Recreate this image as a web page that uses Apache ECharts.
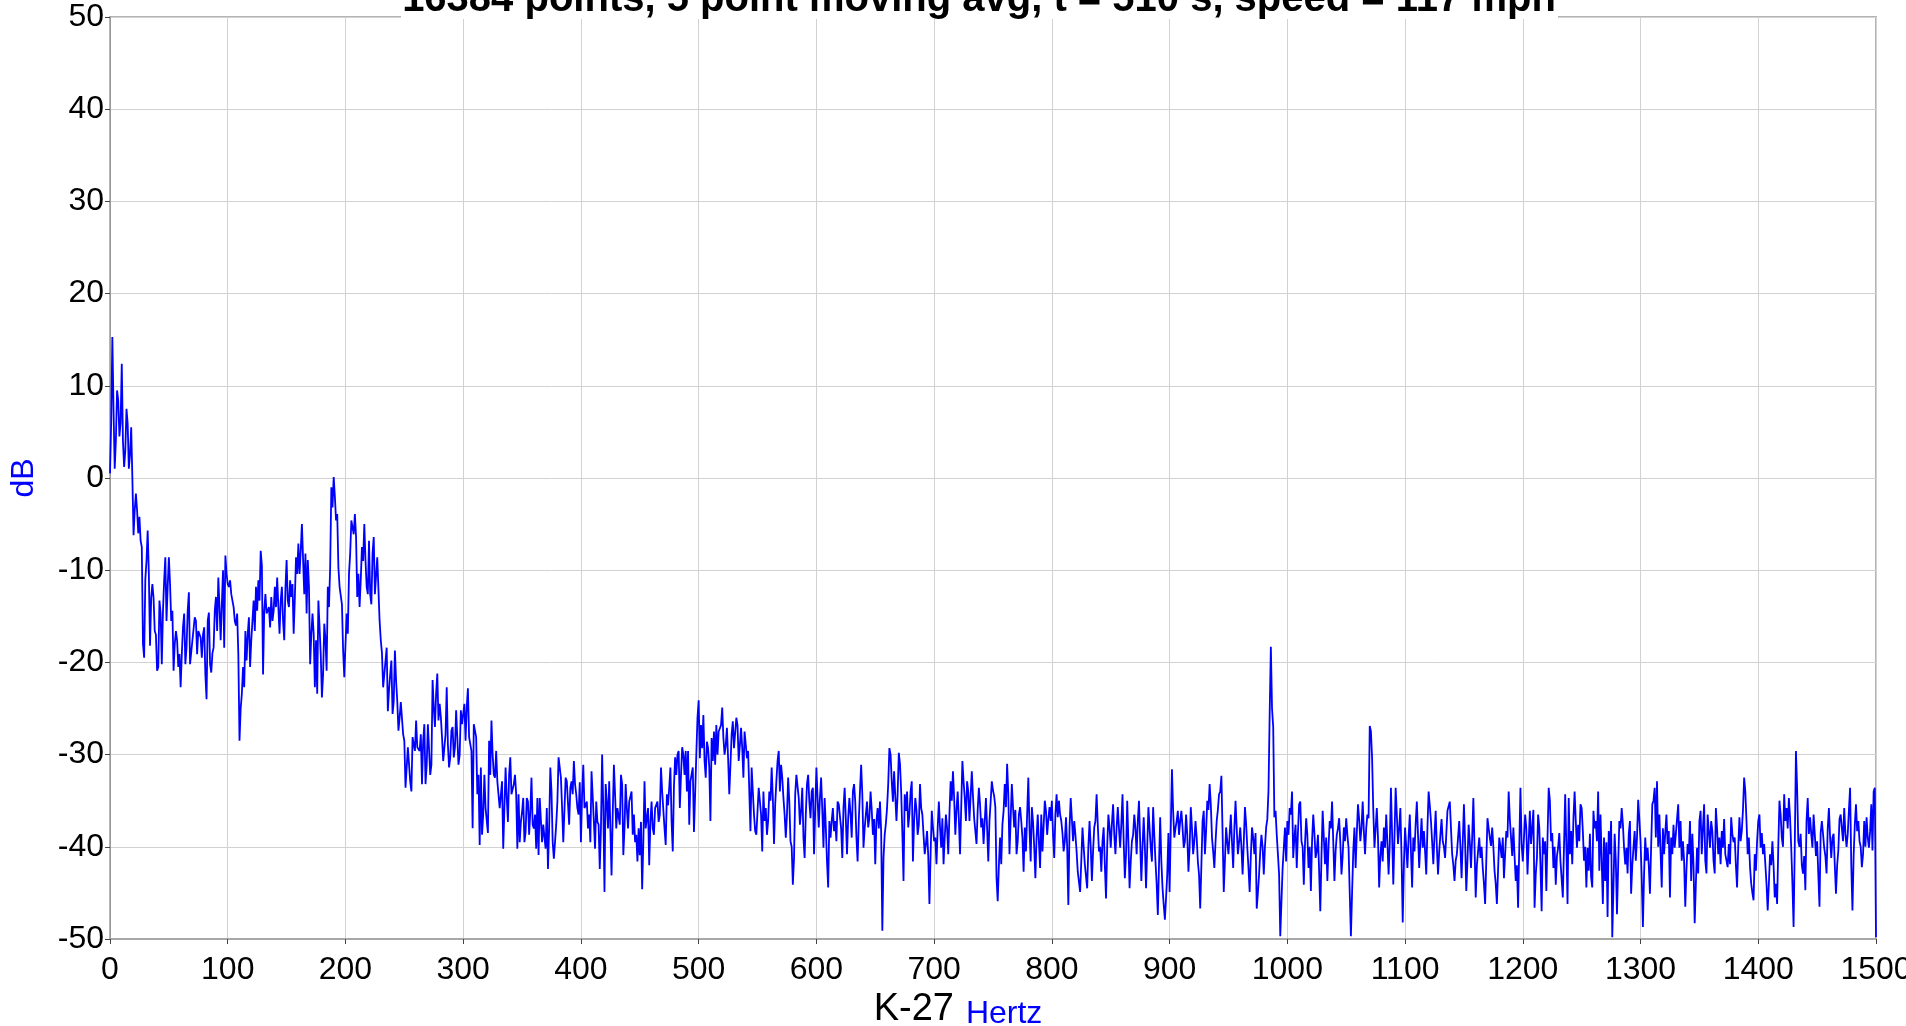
<!DOCTYPE html>
<html><head><meta charset="utf-8">
<script src="https://cdn.jsdelivr.net/npm/echarts@6/dist/echarts.min.js"></script>
<style>html,body{margin:0;padding:0;background:#fff}#c{width:1906px;height:1026px}</style>
</head><body><div id="c"></div>
<script>
// ---- text ----
const TITLE = '16384 points, 5 point moving avg, t = 510 s, speed = 117 mph';
const X_NAME_MAIN = 'K-27';
const X_NAME_UNIT = 'Hertz';
const Y_NAME = 'dB';
// ---- axes ----
const X_MIN = 0, X_MAX = 1500, X_STEP = 100;
const Y_MIN = -50, Y_MAX = 50, Y_STEP = 10;
// ---- data: dB spectrum; each array holds samples 2 Hz apart from its start ----
const STEP_HZ = 2;
// even-Hz samples
const seg0Start = 0;
const seg0 = [0.5,15.3,1.0,9.5,4.5,12.4,1.2,7.5,1.0,5.5,
-6.2,-1.7,-6.0,-6.8,-18.0,-11.0,-5.7,-18.2,-11.5,-16.6,
-20.9,-13.3,-20.2,-11.1,-15.5,-8.6,-15.5,-20.9,-16.6,-20.5,
-22.7,-16.2,-20.2,-14.4,-20.2,-17.6,-15.1,-19.1,-16.6,-19.5,
-16.2,-24.0,-14.6,-21.1,-18.4,-12.9,-10.8,-17.6,-10.0,-8.4,
-11.5,-11.1,-12.6,-15.5,-14.7,-28.5,-23.4,-22.7,-19.8,-15.1,
-17.6,-13.3,-11.8,-11.1,-7.9,-21.3,-12.6,-14.7,-16.2,-15.5,
-11.8,-10.8,-16.9,-11.8,-17.6,-8.9,-14.0,-12.9,-16.9,-8.6,
-7.1,-7.9,-5.0,-8.2,-8.9,-20.2,-14.7,-22.7,-23.4,-13.3,
-23.8,-15.8,-20.9,-14.0,-1.0,0.1,-4.6,-9.7,-11.8,-18.7,
-21.6,-16.9,-8.2,-4.6,-3.9,-12.9,-14.0,-7.5,-5.0,-11.8,
-6.8,-13.7,-6.4,-12.6,-8.6,-17.6,-22.7,-21.3,-25.3,-21.3,
-25.6,-18.7,-24.2];
const seg1Start = 246;
const seg1 = [-26.0,-24.3,-28.5,-33.6,-29.2,-34.0,-28.1,-26.3,-29.2,-27.8,
-28.5,-33.2,-26.7,-32.2,-21.9,-27.0,-21.2,-24.5,-28.1,-30.7,
-22.7,-31.4,-27.4,-30.3,-25.2,-31.1,-25.2,-26.7,-28.5,-22.8,
-28.1,-38.0,-26.7,-34.3,-39.8,-38.7,-32.2,-35.8,-28.5,-26.3,
-32.2,-29.6,-33.0,-35.8,-40.2,-31.4,-37.3,-30.3,-34.3,-32.2,
-40.2,-39.5,-36.2,-39.5,-34.7,-38.7,-32.5,-38.0,-40.2,-40.9,
-34.7,-37.6,-40.2,-42.4,-31.4,-39.5,-41.3,-35.1,-30.3,-35.8,
-39.5,-32.9,-37.6,-32.9,-30.7,-34.3,-36.5,-39.5,-31.1,-35.8,
-38.0,-39.5,-31.8,-40.2,-37.3,-42.4,-30.0,-44.9,-35.1,-32.9,
-43.1,-31.1,-38.0,-35.8,-32.2,-40.9,-33.2,-38.0,-35.1,-38.7,
-39.5,-41.6,-40.9,-44.6,-32.9,-38.0,-42.0,-35.1,-38.7,-35.8,
-37.3,-31.4,-34.0,-39.8,-35.5,-31.4,-40.5,-30.3,-30.0,-35.8,
-29.2,-32.2,-34.0,-37.6,-32.9,-38.4,-30.0,-24.1];
const seg2Start = 502;
const seg2 = [-26.8,-25.7,-32.5,-29.3,-37.2,-30.7,-31.1,-30.0,-27.5,-24.9,
-30.0,-27.1,-34.3,-27.8,-29.3,-26.0,-30.7,-27.1,-32.5,-28.9,
-29.6,-38.3,-34.0,-38.3,-36.1,-33.6,-40.5,-37.2,-38.7,-34.0,
-31.4,-39.7,-32.9,-29.6,-31.1,-34.7,-39.0,-32.5,-39.4,-44.1,
-34.3,-32.2,-37.6,-33.6,-41.2,-33.2,-35.1,-34.0,-40.8,-31.4,
-37.9,-32.5,-40.1,-37.9,-44.4,-39.0,-35.8,-37.2,-35.1,-35.4,
-41.2,-33.6,-40.8,-34.7,-39.0,-33.2,-39.0,-37.2,-31.1,-40.1,
-36.5,-37.9,-34.0,-38.7,-41.9,-35.8,-35.1,-49.1,-38.7,-35.8,
-29.3,-32.9,-31.8,-37.2,-29.8,-34.0,-43.7,-36.1,-37.9,-34.0,
-41.6,-34.7,-38.7,-33.2,-36.5,-40.8,-38.3,-46.2,-36.1,-39.4,
-41.9,-35.1,-40.1,-41.9,-36.5,-40.8,-32.9,-31.8,-38.7,-34.0,
-40.8,-30.7,-34.7,-32.9,-37.2,-31.8,-36.9,-39.7,-33.6,-37.9,
-39.7,-34.7,-41.6,-35.1];
const seg3Start = 750;
const seg3 = [-33.9,-35.7,-45.9,-39.0,-37.6,-33.2,-31.0,-40.8,-33.2,-37.9,
-40.8,-36.5,-37.2,-42.7,-40.5,-32.5,-41.6,-37.3,-43.4,-36.5,
-42.3,-40.5,-35.0,-38.7,-35.7,-35.0,-41.2,-34.3,-35.0,-37.2,
-40.5,-36.8,-46.3,-34.7,-39.4,-38.7,-42.7,-44.9,-37.9,-41.9,
-44.5,-37.2,-43.7,-37.9,-34.3,-40.5,-42.7,-37.9,-45.6,-36.5,
-40.1,-35.4,-40.8,-35.7,-40.1,-34.3,-43.4,-35.0,-44.5,-39.4,
-36.5,-40.8,-35.0,-43.7,-36.8,-44.5,-35.7,-40.1,-35.7,-41.6,
-47.4,-36.8,-44.5,-47.9,-43.0,-44.9,-31.6,-39.0,-37.2,-38.7,
-36.1,-40.1,-36.5,-42.7,-35.7,-40.8,-37.2,-41.6,-46.7,-37.2,
-40.8,-35.0,-33.2,-39.0,-42.3,-37.2,-34.3,-32.3,-44.9,-37.9,
-40.8,-36.5,-42.3,-35.0,-40.8,-37.9,-43.0,-35.7,-40.1,-44.9,
-37.9,-40.8,-46.7,-43.0,-38.7,-43.0,-37.9,-33.9,-18.3,-27.0,
-36.1,-40.8,-49.7];
const seg4Start = 996;
const seg4 = [-42.3,-37.9,-37.2,-35.8,-34.0,-39.0,-42.3,-35.4,-39.4,-44.1,
-36.9,-42.3,-44.8,-36.5,-41.2,-38.7,-47.0,-36.1,-41.9,-43.7,
-37.2,-35.1,-43.7,-38.7,-36.9,-43.0,-37.9,-36.9,-40.1,-49.7,
-40.5,-42.3,-35.4,-39.4,-35.1,-40.8,-36.5,-26.9,-30.4,-40.1,
-35.8,-44.4,-39.4,-37.9,-36.5,-43.0,-33.6,-44.1,-33.6,-39.7,
-35.8,-48.2,-37.9,-42.3,-36.5,-44.4,-40.5,-35.1,-42.3,-36.9,
-38.3,-43.0,-34.0,-37.2,-41.9,-36.1,-43.0,-38.7,-39.4,-41.2,
-36.1,-35.1,-40.8,-43.7,-40.8,-37.2,-43.4,-35.4,-44.8,-37.6,
-42.3,-34.7,-45.5,-40.5,-41.2,-42.3,-46.2,-36.9,-39.0,-37.9,
-42.6,-46.2,-39.0,-41.2,-43.4,-38.3,-34.0,-39.0,-37.9,-43.7,
-46.6,-33.6,-41.6,-36.5,-43.0,-36.1,-37.9,-46.6,-41.2,-37.9,
-47.0,-40.8,-44.8,-33.6,-39.4,-42.3,-44.1,-40.1,-41.6,-45.5,
-34.3,-46.2];
const seg5Start = 1240;
const seg5 = [-40.8,-41.9,-34.0,-40.1,-39.4,-35.8,-41.5,-44.4,-42.6,-43.3,
-36.1,-37.2,-34.0,-36.5,-46.2,-43.7,-47.6,-40.8,-49.8,-38.6,
-47.3,-37.2,-35.8,-40.1,-40.1,-38.6,-45.1,-40.1,-41.5,-34.9,
-39.4,-48.7,-39.0,-40.1,-45.1,-35.4,-33.6,-32.9,-36.5,-44.4,
-40.8,-36.5,-38.3,-39.0,-37.6,-38.6,-35.4,-37.2,-39.4,-46.5,
-39.7,-37.2,-38.6,-48.3,-40.1,-37.2,-40.8,-35.4,-42.9,-38.3,
-37.2,-41.5,-35.8,-40.8,-41.9,-40.1,-40.8,-42.2,-41.9,-38.6,
-39.0,-44.4,-36.8,-38.3,-32.5,-37.2,-39.0,-44.0,-45.8,-42.6,
-37.2,-40.1,-40.8,-41.9,-46.9,-40.8,-39.4,-45.5,-46.2,-35.0,
-39.0,-34.3,-35.8,-34.7,-40.1,-48.7,-29.6,-39.4,-38.6,-42.9,
-44.7,-34.7,-36.8,-40.1,-38.6,-39.4,-46.5,-37.2,-40.1,-42.9,
-35.8,-41.2,-38.6,-45.1,-40.4,-36.5,-39.4,-38.6,-38.6,-33.6,
-46.9,-37.6,-38.3,-39.4,-42.2,-37.2,-36.8,-40.1,-35.4,-34.0,
-49.8];
// odd-Hz samples
const odd0Start = 1;
const odd0 = [6.0,7.4,4.1,8.4,6.0,4.0,3.0,5.9,2.5,0.0,
-3.5,-3.5,-4.2,-7.5,-19.5,-9.0,-10.4,-13.0,-13.0,-17.0,
-20.5,-14.7,-14.4,-8.6,-11.8,-11.5,-14.4,-18.0,-17.6,-19.1,
-19.1,-14.7,-18.4,-12.4,-20.2,-17.6,-15.5,-16.6,-17.3,-17.0,
-21.3,-15.5,-20.2,-19.0,-14.4,-16.6,-14.0,-13.7,-18.4,-10.4,
-11.8,-12.6,-14.0,-16.0,-19.1,-25.0,-20.5,-16.6,-16.9,-20.5,
-15.5,-16.6,-14.4,-13.3,-9.5,-14.4,-14.7,-14.0,-12.9,-14.4,
-14.0,-14.0,-13.3,-15.5,-12.0,-13.3,-11.1,-11.5,-13.0,-10.4,
-10.4,-5.0,-12.6,-14.7,-11.8,-17.0,-16.9,-17.6,-13.3,-19.1,
-21.3,-17.5,-11.8,-9.7,-3.2,-2.0,-3.9,-11.8,-13.7,-21.6,
-14.7,-10.4,-4.6,-6.1,-6.4,-10.4,-11.0,-9.0,-8.9,-12.6,
-12.6,-8.2,-12.6,-8.6,-15.5,-19.0,-21.3,-18.4,-23.0,-19.8,
-24.2,-22.0,-27.4];
const odd1Start = 247;
const odd1 = [-24.3,-27.8,-33.6,-29.2,-32.9,-28.1,-29.6,-29.2,-29.6,-33.2,
-26.7,-31.1,-26.9,-31.1,-24.9,-23.4,-26.3,-25.9,-30.7,-27.8,
-28.9,-30.3,-27.0,-29.2,-25.2,-30.0,-26.7,-24.5,-24.9,-28.1,
-29.6,-26.7,-28.1,-32.2,-31.4,-36.5,-35.8,-38.5,-32.2,-30.0,
-32.5,-32.9,-35.8,-32.9,-35.8,-34.7,-32.2,-34.3,-33.2,-34.3,
-34.3,-37.3,-34.7,-38.4,-35.1,-36.2,-37.6,-36.5,-34.7,-34.7,
-39.5,-37.6,-35.8,-38.0,-34.0,-41.3,-37.6,-30.3,-32.5,-39.5,
-32.5,-33.0,-33.6,-34.3,-33.2,-35.8,-33.0,-34.3,-35.8,-35.1,
-36.5,-31.8,-37.3,-35.1,-37.6,-38.0,-35.8,-33.2,-38.0,-32.9,
-36.5,-34.3,-35.8,-37.6,-33.2,-38.0,-35.8,-35.1,-34.0,-36.5,
-38.7,-38.0,-37.3,-39.5,-38.0,-35.8,-37.3,-38.0,-35.8,-35.1,
-36.5,-34.0,-38.0,-34.3,-33.6,-37.3,-33.5,-32.2,-29.6,-32.2,
-30.0,-29.6,-29.6,-32.9,-31.4,-34.3,-26.0];
const odd2Start = 501;
const odd2 = [-30.4,-29.3,-30.7,-28.6,-31.4,-28.2,-27.5,-26.8,-27.5,-26.8,
-28.2,-29.0,-30.4,-31.1,-26.4,-29.3,-26.8,-29.0,-29.3,-27.5,
-30.4,-29.6,-31.4,-36.5,-38.7,-33.6,-36.5,-34.0,-35.8,-37.2,
-35.0,-34.7,-35.4,-30.7,-34.0,-32.5,-36.5,-36.5,-35.1,-40.0,
-41.2,-32.2,-34.7,-36.1,-39.0,-36.5,-32.2,-36.9,-33.6,-36.0,
-34.7,-34.7,-36.0,-34.7,-41.6,-37.2,-37.2,-38.3,-39.4,-35.4,
-38.0,-35.8,-37.0,-36.9,-36.5,-34.0,-35.1,-41.6,-34.0,-34.3,
-38.0,-35.1,-36.9,-36.0,-37.0,-37.2,-38.0,-38.3,-41.2,-37.5,
-33.2,-30.0,-35.1,-34.5,-34.3,-31.0,-38.5,-34.3,-34.0,-36.5,
-32.9,-37.2,-36.0,-37.6,-35.8,-38.7,-39.7,-41.0,-40.8,-37.9,
-39.0,-38.0,-37.9,-36.9,-39.0,-38.0,-36.5,-35.0,-34.7,-36.0,
-37.0,-35.8,-32.9,-37.2,-34.0,-34.5,-34.5,-37.0,-36.0,-35.4,
-36.9,-37.2,-38.0,-37.2,-32.9];
const odd3Start = 751;
const odd3 = [-34.5,-43.4,-42.0,-41.9,-36.1,-35.7,-34.3,-37.0,-35.7,-36.0,
-39.4,-35.7,-39.0,-37.9,-36.5,-38.0,-35.7,-40.0,-39.0,-39.5,
-36.5,-37.8,-36.1,-37.0,-37.2,-38.7,-36.5,-36.8,-36.5,-38.5,
-39.4,-40.0,-38.0,-37.0,-37.2,-40.5,-42.5,-41.5,-40.0,-42.0,
-40.0,-40.0,-40.5,-37.2,-37.6,-40.0,-39.4,-42.0,-40.0,-37.9,
-37.5,-38.7,-37.9,-38.0,-37.5,-39.4,-40.8,-39.4,-41.6,-38.7,
-38.0,-37.2,-39.4,-40.0,-40.0,-40.1,-38.0,-41.6,-38.7,-44.0,
-42.0,-41.6,-46.3,-45.5,-38.5,-38.0,-36.1,-38.0,-36.1,-37.2,
-37.9,-39.4,-38.7,-40.1,-38.0,-39.4,-39.0,-43.0,-42.0,-36.1,
-38.3,-36.0,-35.4,-40.5,-39.5,-36.0,-34.0,-38.5,-41.5,-39.5,
-38.7,-39.5,-38.0,-38.0,-39.5,-40.0,-39.5,-37.5,-42.3,-41.0,
-39.0,-38.5,-45.0,-40.5,-40.0,-40.0,-37.0,-25.6,-25.0,-36.8,
-38.7,-43.0];
const odd4Start = 995;
const odd4 = [-46.0,-40.1,-41.6,-38.7,-36.5,-41.2,-37.6,-38.5,-35.1,-40.0,
-39.7,-38.7,-40.0,-39.4,-38.5,-40.5,-42.6,-41.0,-39.0,-39.0,
-40.0,-38.0,-39.4,-40.5,-38.0,-39.5,-41.0,-39.4,-38.7,-45.0,
-45.0,-37.9,-38.5,-37.0,-38.0,-38.3,-38.0,-36.9,-27.5,-36.0,
-38.0,-39.0,-41.0,-41.6,-40.1,-39.5,-39.7,-38.7,-39.0,-36.5,
-38.0,-41.0,-42.0,-40.0,-39.0,-40.5,-39.0,-37.5,-38.7,-39.5,
-40.1,-40.5,-38.0,-35.5,-39.5,-38.7,-40.0,-40.5,-37.0,-40.0,
-38.7,-36.0,-38.0,-42.0,-41.5,-39.0,-40.0,-39.5,-39.5,-41.5,
-39.5,-39.0,-40.0,-42.0,-39.0,-40.0,-44.0,-41.5,-38.0,-39.9,
-40.0,-44.0,-42.5,-40.0,-39.0,-40.8,-39.0,-37.0,-41.0,-41.0,
-42.0,-40.0,-39.7,-39.0,-38.0,-39.5,-39.7,-36.0,-43.0,-36.5,
-42.0,-39.0,-39.4,-39.0,-35.0,-38.5,-40.0,-41.0,-38.5,-43.5,
-40.0,-40.0];
const odd5Start = 1239;
const odd5 = [-34.7,-38.3,-37.0,-37.2,-37.6,-35.4,-38.3,-40.0,-40.1,-38.6,
-44.4,-38.0,-39.4,-42.6,-41.5,-39.0,-39.5,-38.3,-37.2,-44.4,
-41.5,-42.0,-38.0,-37.5,-41.9,-42.9,-37.2,-42.0,-38.3,-39.0,
-37.0,-43.3,-43.0,-41.5,-42.0,-40.0,-35.0,-39.0,-40.0,-40.5,
-38.0,-38.5,-39.7,-45.5,-40.8,-40.1,-37.0,-40.1,-41.5,-41.5,
-42.5,-40.8,-43.7,-42.0,-44.0,-42.9,-36.1,-38.0,-41.5,-36.5,
-40.1,-38.3,-42.9,-38.0,-39.0,-38.3,-37.0,-41.5,-39.7,-36.8,
-39.5,-42.0,-40.0,-39.4,-36.0,-34.0,-40.8,-42.2,-45.0,-40.8,
-39.4,-36.5,-38.5,-39.7,-44.0,-44.0,-42.0,-42.0,-44.0,-40.0,
-36.5,-40.0,-37.2,-38.0,-36.8,-44.0,-40.0,-33.6,-40.0,-42.0,
-41.0,-37.2,-38.6,-38.6,-36.5,-41.0,-43.0,-38.5,-38.6,-41.0,
-38.0,-39.0,-39.0,-42.0,-42.0,-37.0,-38.0,-35.8,-40.0,-36.0,
-42.0,-41.0,-35.4,-37.2,-40.0,-40.8,-40.0,-39.0,-38.3,-40.4,
-33.6];

const SEGMENTS = [[seg0Start, seg0],[seg1Start, seg1],[seg2Start, seg2],[seg3Start, seg3],[seg4Start, seg4],[seg5Start, seg5],
                  [odd0Start, odd0],[odd1Start, odd1],[odd2Start, odd2],[odd3Start, odd3],[odd4Start, odd4],[odd5Start, odd5]];
const points = [];
SEGMENTS.forEach(([start, vals]) => vals.forEach((v, i) => points.push([start + i * STEP_HZ, v])));
points.sort((a, b) => a[0] - b[0]);

const FONT = '"Liberation Sans", Arial, Helvetica, sans-serif';
const chart = echarts.init(document.getElementById('c'), null, {renderer: 'canvas'});
chart.setOption({
  animation: false,
  backgroundColor: '#fff',
  grid: {left: 110, top: 17, right: 30, bottom: 87, containLabel: false, outerBoundsMode: 'none',
         show: true, borderColor: '#b4b4b4', borderWidth: 2, backgroundColor: 'transparent'},
  xAxis: {
    type: 'value', min: X_MIN, max: X_MAX, interval: X_STEP,
    name: '{a|' + X_NAME_MAIN + '}{b|' + X_NAME_UNIT + '}',
    nameLocation: 'middle', nameGap: 50,
    nameTextStyle: {padding: [0, 70, 0, 0], rich: {
      a: {fontSize: 38, color: '#000', fontFamily: FONT, padding: [0, 12, 0, 0]},
      b: {fontSize: 32, color: '#0000ff', fontFamily: FONT, padding: [9, 0, 0, 0]}
    }},
    axisLine: {onZero: false, lineStyle: {color: '#a8a8a8', width: 2}},
    axisTick: {show: true, length: 5, lineStyle: {color: '#444', width: 1}},
    axisLabel: {fontSize: 32, color: '#000', fontFamily: FONT, margin: 15, formatter: v => String(v)},
    splitLine: {show: true, lineStyle: {color: '#d2d2d2', width: 1}}
  },
  yAxis: {
    type: 'value', min: Y_MIN, max: Y_MAX, interval: Y_STEP,
    name: Y_NAME, nameLocation: 'middle', nameGap: 70, nameRotate: 90,
    nameTextStyle: {fontSize: 32, color: '#0000ff', fontFamily: FONT},
    axisLine: {show: true, onZero: false, lineStyle: {color: '#9a9a9a', width: 1}},
    axisTick: {show: true, length: 5, lineStyle: {color: '#444', width: 1}},
    axisLabel: {fontSize: 32, color: '#000', fontFamily: FONT, margin: 6, formatter: v => String(v)},
    splitLine: {show: true, lineStyle: {color: '#d2d2d2', width: 1}}
  },
  graphic: [
    {type: 'rect', z: 100, shape: {x: 401, y: 0, width: 1157, height: 19}, style: {fill: '#fff'}},
    {type: 'text', z: 101, style: {text: TITLE, x: 979, y: 20, textAlign: 'center', textVerticalAlign: 'bottom', font: 'bold 40px ' + FONT, fill: '#000'}}
  ],
  series: [{
    type: 'line', data: points, showSymbol: false, symbol: 'none', sampling: false,
    lineStyle: {color: '#0000ff', width: 1.8}, itemStyle: {color: '#0000ff'}
  }]
});
</script>
</body></html>
